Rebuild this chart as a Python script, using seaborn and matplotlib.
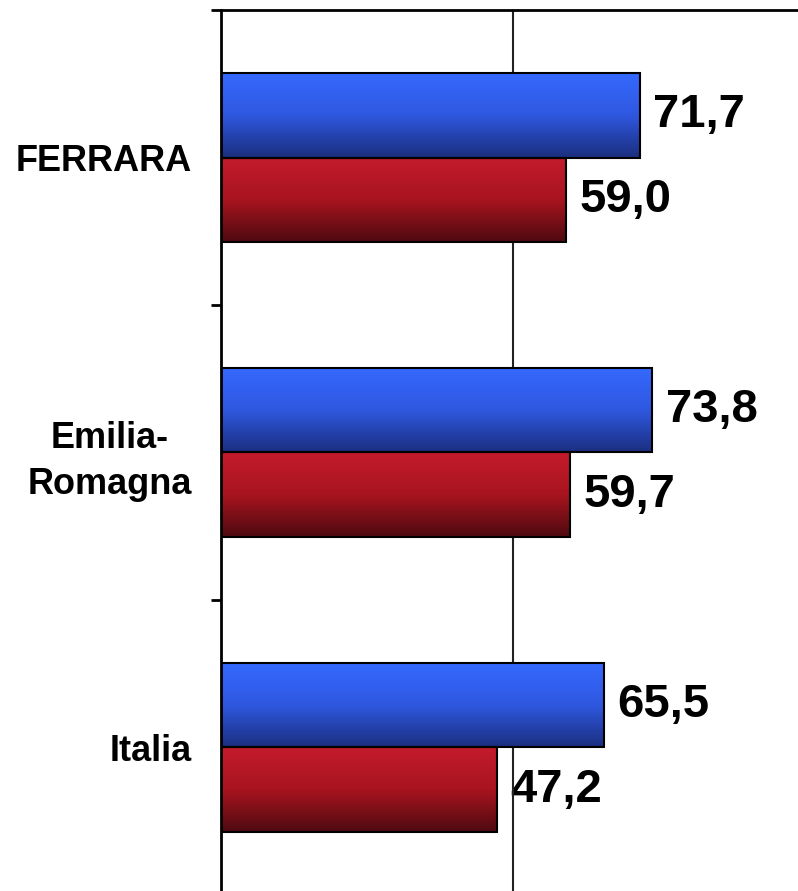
import numpy as np
import pandas as pd
import matplotlib.pyplot as plt
import seaborn as sns
from matplotlib.colors import LinearSegmentedColormap

# dati
categorie = ["FERRARA", "Emilia-\nRomagna", "Italia"]
serie_blu = [71.7, 73.8, 65.5]
serie_rossa = [59.0, 59.7, 47.2]
etichette_blu = ["71,7", "73,8", "65,5"]
etichette_rosse = ["59,0", "59,7", "47,2"]

df = pd.DataFrame({
    "area": categorie * 2,
    "valore": serie_blu + serie_rossa,
    "serie": ["blu"] * 3 + ["rossa"] * 3,
})

sns.set_style("white")
plt.rcParams["font.family"] = ["Liberation Sans", "DejaVu Sans"]
plt.rcParams["text.color"] = "black"

fig = plt.figure(figsize=(7.98, 8.91), dpi=100)
ax = fig.add_axes([221 / 798, 0, 1 - 221 / 798, 1 - 10 / 891])

sns.barplot(data=df, y="area", x="valore", hue="serie", orient="h",
            width=0.573, palette=["#3366ff", "#c0182a"], legend=False,
            ax=ax, zorder=2)

# riempimento sfumato delle barre
cmap_blu = LinearSegmentedColormap.from_list("blu", ["#3569ff", "#2f58e0", "#1b2f80"])
cmap_rossa = LinearSegmentedColormap.from_list("rossa", ["#c41b2c", "#a8141f", "#4e0a10"])
grad = np.linspace(0, 1, 256).reshape(-1, 1)

for cont, cmap, testi in zip(ax.containers, [cmap_blu, cmap_rossa],
                             [etichette_blu, etichette_rosse]):
    for bar, testo in zip(cont, testi):
        x0, y0 = bar.get_x(), bar.get_y()
        w, h = bar.get_width(), bar.get_height()
        im = ax.imshow(grad, cmap=cmap, extent=(x0, x0 + w, y0 + h, y0),
                       aspect="auto", origin="upper", zorder=2)
        im.set_clip_path(bar)
        bar.set_facecolor("none")
        bar.set_edgecolor("black")
        bar.set_linewidth(1.5)
        bar.set_zorder(3)
        ax.annotate(testo, xy=(x0 + w, y0 + h / 2), xytext=(9.5, 0),
                    textcoords="offset points", ha="left", va="center",
                    fontsize=34, fontweight="bold", color="black", zorder=1)

ax.axvline(50, color="#222222", lw=1.5, zorder=1.5)

ax.set_xlim(0, 98.7)
ax.set_ylim(-0.5 + 881 / 295, -0.5)
ax.set_xticks([])
ax.set_xlabel("")
ax.set_ylabel("")

ax.set_yticks([0, 1, 2])
ax.set_yticklabels(categorie, fontsize=26, fontweight="bold", ha="right",
                   multialignment="center", linespacing=1.4, color="black")
ax.set_yticks([-0.5, 0.5, 1.5], minor=True)
ax.tick_params(axis="y", which="major", length=0, pad=21)
ax.tick_params(axis="y", which="minor", left=True, length=7.5, width=2,
               color="black", direction="out")

for lato in ["right", "bottom"]:
    ax.spines[lato].set_visible(False)
for lato in ["left", "top"]:
    ax.spines[lato].set_color("black")
    ax.spines[lato].set_linewidth(2)

fig.savefig("out.png", dpi=100)
